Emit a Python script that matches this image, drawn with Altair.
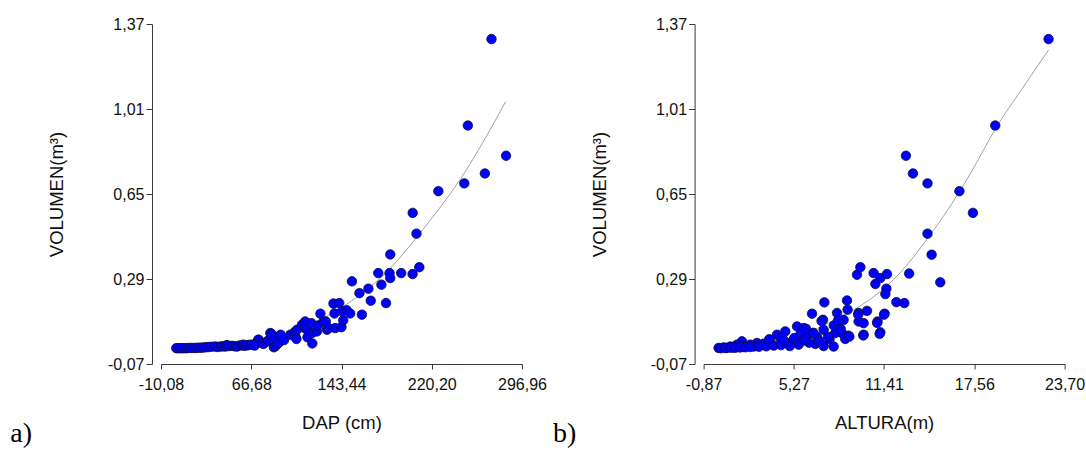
import altair as alt
import pandas as pd

# ---------------- data ----------------
dap = [2.9, 4.5, 6.3, 8.0, 9.7, 11.5, 13.4, 15.5, 17.6, 19.8, 21.9, 24.0, 26.1, 28.2, 30.4,
       33.0, 36.1, 38.0, 40.4, 42.5, 44.6, 46.0, 47.5, 50.3, 52.5, 54.6, 56.5, 58.8, 60.0, 61.0,
       63.1, 65.0, 67.3, 70.1,
       72.6, 72.9, 69.6, 75.8, 77.0, 80.1, 81.4, 82.9, 83.8, 85.7, 85.9, 87.1, 88.8, 89.9, 91.6,
       94.5, 99.9, 103.6, 104.1, 105.1, 105.6, 109.8, 111.8, 112.4, 112.6, 114.1, 114.5, 117.8,
       118.3, 118.6, 122.6, 123.4, 125.5, 128.2, 130.1, 131.1, 132.5, 136.6, 137.5, 138.1, 141.5,
       143.4, 143.9, 144.9, 147.9, 150.8, 152.3, 158.7, 160.8, 166.3, 168.3, 174.7, 177.4, 181.3,
       184.3, 184.9, 184.9, 194.2, 203.9, 204.0, 207.2, 209.6, 225.8, 247.9, 250.9, 265.4, 271.0,
       283.4]
vol_a = [-0.003, -0.003, -0.003, -0.003, -0.003, -0.003, -0.002, -0.002, -0.002, -0.002, -0.001,
         -0.001, 0.000, 0.001, 0.002, 0.003, 0.004, 0.002, 0.004, 0.005, 0.004, 0.010, 0.006, 0.007,
         0.005, 0.004, 0.008, 0.009, 0.012, 0.007, 0.009, 0.011, 0.012, 0.015,
         0.032, 0.033, 0.008, 0.019, 0.015, 0.026, 0.029, 0.061, 0.058, 0.033, 0.001, 0.005, 0.015,
         0.019, 0.054, 0.031, 0.054, 0.065, 0.047, 0.036, 0.075, 0.096, 0.103, 0.082, 0.110, 0.075,
         0.043, 0.103, 0.061, 0.017, 0.068, 0.093, 0.143, 0.110, 0.110, 0.075, 0.082, 0.186, 0.144,
         0.082, 0.188, 0.086, 0.153, 0.115, 0.158, 0.144, 0.280, 0.230, 0.139, 0.249, 0.198, 0.315,
         0.266, 0.188, 0.315, 0.294, 0.394, 0.315, 0.311, 0.570, 0.482, 0.340, 0.662, 0.695, 0.940,
         0.737, 1.306, 0.812]

fit_dap = [3.0, 20.0, 40.0, 60.0, 80.0, 100.0, 120.0, 140.0, 160.0, 185.0, 205.0, 225.0,
           245.0, 265.0, 283.0]
fit_vol_a = [0.000, 0.001, 0.005, 0.016, 0.035, 0.063, 0.104, 0.158, 0.226, 0.335, 0.452,
             0.578, 0.716, 0.880, 1.041]

altura = [22.61, 18.98, 12.90, 13.38, 14.37, 16.54, 17.46, 14.37, 14.65, 15.24, 13.12,
          9.57, 9.80, 10.70, 11.16, 11.61, 10.82, 11.57, 11.50, 12.25, 12.79, 11.45, 10.97, 11.16,
          10.02, 8.89, 8.93, 7.35, 7.26, 8.21, 9.68, 10.25, 8.66, 9.68, 10.02, 6.51, 7.30, 8.09,
          8.55, 8.77, 8.99, 7.98, 7.30, 6.73, 5.49, 5.94, 5.71, 4.69, 4.13, 4.35, 6.17, 6.85, 5.26,
          4.81, 3.67, 3.21, 2.76, 2.31, 1.74, 1.40, 0.95, 0.49, 0.15, 0.72, 1.17, 1.85, 2.53,
          0.30, 0.60, 1.00, 1.30, 1.60, 2.00, 2.30, 2.90, 3.40, 3.90, 4.40, 5.00, 5.60, 6.30, 6.00,
          7.00, 7.70, 5.30, 4.60, 3.60, 6.60, 7.60, 9.05, 8.46, 7.99, 8.27, 7.16, 6.10, 9.65, 10.94,
          11.41, 11.11, 10.00]
vol_b = [1.306, 0.940, 0.812, 0.737, 0.695, 0.662, 0.570, 0.482, 0.393, 0.276, 0.313,
         0.308, 0.340, 0.315, 0.294, 0.311, 0.269, 0.249, 0.226, 0.192, 0.188, 0.143, 0.110, 0.064,
         0.054, 0.199, 0.160, 0.191, 0.117, 0.146, 0.146, 0.155, 0.117, 0.110, 0.103, 0.143, 0.075,
         0.061, 0.061, 0.036, 0.050, 0.004, 0.006, 0.015, 0.089, 0.082, 0.054, 0.068, 0.054, 0.040,
         0.047, 0.045, 0.026, 0.019, 0.022, 0.016, 0.019, 0.012, 0.026, 0.012, 0.004, 0.000,
         -0.002, -0.002, 0.000, 0.002, 0.004,
         -0.003, -0.002, -0.001, -0.001, 0.000, 0.001, 0.002, 0.003, 0.005, 0.008, 0.010, 0.006,
         0.012, 0.020, 0.030, 0.028, 0.035, 0.040, 0.030, 0.035, 0.062, 0.045, 0.046, 0.079, 0.093,
         0.114, 0.112, 0.079, 0.139, 0.104, 0.139, 0.058, 0.051]

fit_alt = [0.2, 2.0, 4.0, 6.0, 8.0, 10.25, 11.5, 12.63, 13.5, 14.44, 15.5, 16.53, 17.7,
           18.98, 20.8, 22.61]
fit_vol_b = [0.000, 0.005, 0.023, 0.059, 0.115, 0.195, 0.255, 0.325, 0.390, 0.468, 0.560,
             0.658, 0.782, 0.925, 1.095, 1.260]

y_ticks = [-0.07, 0.29, 0.65, 1.01, 1.37]
xa_ticks = [-10.08, 66.68, 143.44, 220.20, 296.96]
xb_ticks = [-0.87, 5.27, 11.41, 17.56, 23.70]

# ---------------- styling ----------------
FONT = "Liberation Sans"
AX = "#3a3a3a"
LBL = "(datum.value < 0 ? '-' : '') + replace(format(abs(datum.value), '.2f'), '.', ',')"
W, H = 361, 340


def x_axis(title, ticks):
    return alt.Axis(values=ticks, labelExpr=LBL, title=title, grid=False,
                    tickSize=5, labelPadding=7, titlePadding=21, labelFlush=False,
                    labelOverlap=False, labelFontSize=16, titleFontSize=18.5,
                    labelFont=FONT, titleFont=FONT, titleFontWeight="normal",
                    domainColor=AX, tickColor=AX, labelColor="#111", titleColor="#111")


def y_axis():
    return alt.Axis(values=y_ticks, labelExpr=LBL, title="VOLUMEN(m³)", grid=False,
                    offset=9, tickSize=6, labelPadding=2, titlePadding=41,
                    labelOverlap=False, labelFontSize=16, titleFontSize=18.5,
                    labelFont=FONT, titleFont=FONT, titleFontWeight="normal",
                    domainColor=AX, tickColor=AX, labelColor="#111", titleColor="#111")


def panel(xs, ys, fx, fy, xname, xtitle, ticks, tag):
    pts = pd.DataFrame({xname: xs, "VOL": ys})
    fit = pd.DataFrame({xname: fx, "VOL": fy})
    xsc = alt.Scale(domain=[ticks[0], ticks[-1]], nice=False, zero=False)
    ysc = alt.Scale(domain=[y_ticks[0], y_ticks[-1]], nice=False, zero=False)
    line = alt.Chart(fit).mark_line(color="#8a8a8a", strokeWidth=0.8,
                                    interpolate="monotone").encode(
        x=alt.X(f"{xname}:Q", scale=xsc, axis=x_axis(xtitle, ticks)),
        y=alt.Y("VOL:Q", scale=ysc, axis=y_axis()))
    dots = alt.Chart(pts).mark_point(filled=True, shape="circle", size=90,
                                     fill="#0000ff", stroke="#0c0c40",
                                     strokeWidth=0.8, opacity=1).encode(
        x=alt.X(f"{xname}:Q", scale=xsc),
        y=alt.Y("VOL:Q", scale=ysc))
    lab = alt.Chart(pd.DataFrame({"t": [tag]})).mark_text(
        font="Liberation Serif", fontSize=28, align="left", baseline="alphabetic",
        color="#000").encode(text="t:N", x=alt.value(-150.7), y=alt.value(417.7))
    return alt.layer(line, dots, lab).properties(width=W, height=H)


left = panel(dap, vol_a, fit_dap, fit_vol_a, "DAP", "DAP (cm)", xa_ticks, "a)")
right = panel(altura, vol_b, fit_alt, fit_vol_b, "ALTURA", "ALTURA(m)", xb_ticks, "b)")

chart = alt.hconcat(left, right, spacing=181.6, bounds="flush").resolve_scale(
    x="independent", y="independent").properties(
    padding={"left": 10, "top": 16, "right": 0, "bottom": 0},
    background="white").configure_view(stroke=None)

chart.save("out.html", embed_options={"renderer": "svg", "actions": False})
